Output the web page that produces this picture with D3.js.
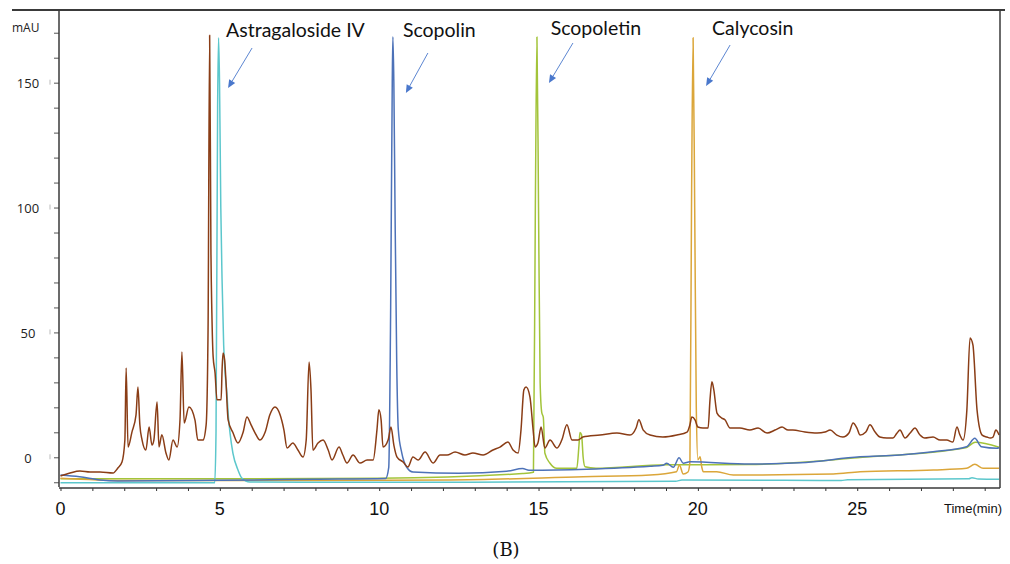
<!DOCTYPE html>
<html><head><meta charset="utf-8">
<script src="https://cdn.jsdelivr.net/npm/d3@7"></script>
<style>html,body{margin:0;padding:0;background:#fff;}svg{display:block;}</style>
</head><body>
<script>
// ---- data (time in min, absorbance in mAU) ----
const brownT = [0,0.3,0.61,0.93,1.24,1.65,1.8,1.93,2.02,2.06,2.12,2.24,2.37,2.43,2.49,2.56,2.68,2.78,2.87,2.93,3.03,3.09,3.18,3.31,3.4,3.53,3.66,3.75,3.81,3.88,4.03,4.22,4.31,4.47,4.57,4.63,4.68,4.72,4.75,4.79,4.85,4.91,5.04,5.07,5.1,5.15,5.19,5.26,5.41,5.57,5.73,5.85,5.98,6.1,6.26,6.42,6.57,6.73,6.89,7.01,7.11,7.29,7.45,7.61,7.71,7.8,7.86,7.92,8.08,8.24,8.4,8.52,8.74,8.86,8.99,9.18,9.4,9.62,9.81,9.93,9.99,10.06,10.12,10.28,10.37,10.46,10.56,10.75,10.9,11.06,11.22,11.44,11.69,11.91,12.13,12.38,12.69,12.94,13.26,13.57,13.79,14.04,14.2,14.36,14.45,14.54,14.61,14.73,14.83,14.89,14.98,15.08,15.2,15.36,15.58,15.73,15.89,16.05,16.24,16.39,16.93,17.46,17.87,18.06,18.15,18.28,18.5,18.9,19.34,19.66,19.75,19.81,19.91,20.0,20.16,20.32,20.38,20.44,20.5,20.6,20.75,20.85,21.01,21.32,21.63,21.89,22.17,22.42,22.64,22.83,22.98,23.36,23.74,23.99,24.15,24.36,24.55,24.74,24.87,24.99,25.09,25.27,25.4,25.56,25.71,25.93,26.12,26.25,26.34,26.5,26.66,26.81,26.97,27.12,27.38,27.6,27.81,28.0,28.13,28.22,28.32,28.44,28.54,28.63,28.76,28.92,29.07,29.17,29.26,29.35,29.45];
const brownV = [-7.5,-6.3,-5.5,-5.9,-5.9,-6.3,-4.3,-1.9,6.9,35.8,4.1,10,17,28.1,13,6.9,2.9,12.1,4.9,6.9,22.1,4.1,9,1.7,-1.1,6.9,4.1,15,42.2,13.7,20.1,14.9,6.9,6.9,13,51,169,83,57.8,40.2,33.8,23,23,35,41.8,39,31,15,9.9,5.7,10,16.1,13,9.9,6.9,10,17,20.1,17,11,3.7,5.7,2.9,0.1,6.9,38.2,27,2.9,5.7,6.9,2.9,-1.1,4.1,0.9,-2.3,0.9,-2.3,-1.1,-1.1,11,19,15,4.1,6.9,12.1,4.9,0.1,-1.9,-3.9,0.1,-1.1,2.1,-2.3,0.9,0.9,2.1,0.9,1.7,0.9,2.9,4.1,6.1,2.9,1.7,11,27,28.1,24.2,11,4.1,5.7,12.1,3.7,6.9,3.7,6.9,13,6.9,6.9,8.1,8.9,9.7,8.9,11.7,15,11,8.9,8.1,8.9,10.1,13,16.1,15,12.1,11.7,11.7,23,30.2,27,17.7,15.7,15,11.7,11.7,10.9,11.7,9.7,10.9,12.1,10.9,10.9,10.1,9.7,10.1,10.9,8.9,8.1,9.7,13.7,11.7,8.9,10.1,13,10.1,8.1,7.7,7.7,9.7,10.9,7.7,9.7,11.7,8.9,7.7,8.1,6.9,6.9,6.1,12.1,9,6.9,18.9,47.8,45,18.9,8.9,8.1,7.7,8.1,10.9,8.9];

const cyanT = [0,4.84,4.88,4.93,4.96,4.99,5.03,5.07,5.12,5.17,5.22,5.27,5.32,5.41,5.57,5.69,5.94,10,19.3,19.5,24.5,24.7,28.5,28.6,28.8,29.45];
const cyanV = [-10.2,-10.2,10,140,168,150,100,71,45,33,25.8,16,9.7,1.7,-5.1,-8.3,-9.9,-10,-9.6,-9.1,-9.3,-9,-8.6,-8.2,-8.7,-8.8];

const blueT = [0,0.6,1.24,1.8,5,8,10.2,10.3,10.36,10.41,10.43,10.46,10.5,10.55,10.6,10.71,10.86,11.06,12.5,14.0,14.5,14.7,16.5,18.5,18.9,19.02,19.23,19.41,19.54,19.75,21.64,23.2,25.09,26.34,27.38,28.43,28.69,28.9,29.38,29.45];
const blueV = [-7.1,-7.8,-9.1,-9.5,-9.2,-8.8,-8.5,-4,60,150,168.4,150,95,38,11,1.7,-3.9,-5.9,-6.4,-5.6,-4.5,-5.2,-4.8,-3.6,-3.2,-2.4,-4,-0.2,-2.4,-1.8,-2.7,-2.2,0.2,0.9,2.2,4.2,7.6,4.2,3.6,3.8];

const greenT = [0,5,10,14.5,14.84,14.9,14.95,15.0,15.05,15.1,15.15,15.2,15.36,15.57,16.2,16.27,16.3,16.35,16.4,16.46,16.8,19,21.6,25,28.4,28.7,29.45];
const greenV = [-8.6,-8.6,-8.4,-6.5,-6,100,168.3,100,30,18,16,1.6,-2.4,-4.4,-4.4,5,9.9,9,0,-3.8,-4.4,-3,-2.9,-0.2,3.8,6,4];

const orangeT = [0,2,8,12.22,16.4,18.5,19.33,19.42,19.54,19.69,19.75,19.8,19.85,19.9,19.95,20.0,20.07,20.12,20.17,20.59,21.11,24.25,25.09,27.39,28.43,28.69,28.95,29.45];
const orangeV = [-8.4,-9.3,-9.3,-9.1,-7.8,-7.1,-5.8,-3.1,-6.7,-5.9,-2,100,168,100,20,-1,0.2,-3.8,-5.8,-5.8,-7.1,-6.7,-5.8,-5.1,-4.4,-2.8,-4.4,-4.4];

const compounds = ["Astragaloside IV","Scopolin","Scopoletin","Calycosin"];
const compoundPeakT = [4.96, 10.43, 14.95, 19.85];

const xTickLabels = [0,5,10,15,20,25];
const yTickLabels = [0,50,100,150];
const xAxisTitle = "Time(min)";
const yAxisTitle = "mAU";
const panelLabel = "(B)";

// ---- layout ----
const W = 1010, H = 564;
const svg = d3.select("body").append("svg").attr("width", W).attr("height", H);

const x = d3.scaleLinear().domain([-0.047, 29.48]).range([59, 1000]);
const y = d3.scaleLinear().domain([-12.3, 179.1]).range([488, 10]);

const series = [
  {t: brownT, v: brownV, color: "#8a3d16", w: 1.5},
  {t: orangeT, v: orangeV, color: "#dba63a", w: 1.5},
  {t: greenT, v: greenV, color: "#a3c43a", w: 1.5},
  {t: blueT, v: blueV, color: "#4d72b8", w: 1.5},
  {t: cyanT, v: cyanV, color: "#5cc7cc", w: 1.5}
];
const drawOrder = [2, 1, 4, 3, 0];
const line = d3.line().x(d => x(d[0])).y(d => y(d[1])).curve(d3.curveMonotoneX);
const gLines = svg.append("g");
drawOrder.forEach(i => {
  const s = series[i];
  const pts = s.t.map((t, k) => [t, s.v[k]]);
  gLines.append("path").attr("d", line(pts)).attr("fill", "none")
    .attr("stroke", s.color).attr("stroke-width", s.w).attr("stroke-linejoin", "round");
});

// frame
const axisColor = "#3a3a3a";
svg.append("line").attr("x1", 12).attr("x2", 1005).attr("y1", 10).attr("y2", 10)
  .attr("stroke", axisColor).attr("stroke-width", 2);
svg.append("line").attr("x1", 1000).attr("x2", 1000).attr("y1", 10).attr("y2", 488)
  .attr("stroke", axisColor).attr("stroke-width", 1.5);

// y axis
const yAxis = d3.axisLeft(y).tickValues(d3.range(-10, 171, 10)).tickSize(5).tickFormat("");
const gy = svg.append("g").attr("transform", "translate(59,0)").call(yAxis);
gy.select(".domain").remove();
gy.selectAll(".tick line").attr("stroke", "#555").attr("stroke-width", 1);
svg.append("line").attr("x1", 59).attr("x2", 59).attr("y1", 10).attr("y2", 487)
  .attr("stroke", axisColor).attr("stroke-width", 1.5);
yTickLabels.forEach(v => {
  svg.append("text").attr("x", 28).attr("y", y(v) + 2).attr("text-anchor", "middle")
    .attr("dominant-baseline", "middle").attr("font-family", "'Open Sans', sans-serif")
    .attr("font-size", 13).attr("fill", "#222").text(v);
  svg.append("line").attr("x1", 50).attr("x2", 50).attr("y1", y(v) - 3).attr("y2", y(v) + 2)
    .attr("stroke", "#bbb").attr("stroke-width", 1);
});
svg.append("text").attr("x", 12).attr("y", 32).attr("font-family", "'Open Sans', sans-serif")
  .attr("font-size", 12).attr("fill", "#222").text(yAxisTitle);

// x axis
const xAxis = d3.axisBottom(x).tickValues(d3.range(0, 30, 1)).tickSize(3).tickFormat("");
const gx = svg.append("g").attr("transform", "translate(0,488)").call(xAxis);
gx.select(".domain").remove();
gx.selectAll(".tick line").attr("stroke", "#333");
svg.append("line").attr("x1", 59).attr("x2", 1000).attr("y1", 488).attr("y2", 488)
  .attr("stroke", axisColor).attr("stroke-width", 1.5);
xTickLabels.forEach(t => {
  svg.append("text").attr("x", x(t)).attr("y", 515).attr("text-anchor", "middle")
    .attr("font-family", "'Liberation Sans Narrow', 'Arial Narrow', sans-serif")
    .attr("font-size", 18).attr("fill", "#111").text(t);
});
svg.append("text").attr("x", 944).attr("y", 513)
  .attr("font-family", "'Liberation Sans Narrow', 'Arial Narrow', sans-serif")
  .attr("font-size", 13).attr("fill", "#111").text(xAxisTitle);

// panel label
svg.append("text").attr("x", 506).attr("y", 556).attr("text-anchor", "middle")
  .attr("font-family", "'DejaVu Serif', 'Liberation Serif', serif")
  .attr("font-size", 18).attr("fill", "#111").text(panelLabel);

// compound annotations
const labelDx = [7.5, 10, 13.7, 19];
const labelY = [37, 37, 35, 35];
const arrowStart = [[33.5, 48], [35, 53], [36, 43], [37, 45]];
const arrowEnd = [[9.5, 88], [13, 93], [12, 83], [13, 86]];
const arrowColor = "#4a78cc";
compounds.forEach((name, i) => {
  const px = x(compoundPeakT[i]);
  svg.append("text").attr("x", px + labelDx[i]).attr("y", labelY[i])
    .attr("font-family", "Lato, 'Open Sans', sans-serif").attr("font-size", 19.5)
    .attr("fill", "#111").text(name);
  const x1 = px + arrowStart[i][0], y1 = arrowStart[i][1];
  const x2 = px + arrowEnd[i][0], y2 = arrowEnd[i][1];
  const ang = Math.atan2(y2 - y1, x2 - x1);
  const L = 8, hw = 3.5;
  const bx = x2 - L * Math.cos(ang), by = y2 - L * Math.sin(ang);
  svg.append("line").attr("x1", x1).attr("y1", y1).attr("x2", bx).attr("y2", by)
    .attr("stroke", arrowColor).attr("stroke-width", 0.9);
  const p1 = [bx + hw * Math.sin(ang), by - hw * Math.cos(ang)];
  const p2 = [bx - hw * Math.sin(ang), by + hw * Math.cos(ang)];
  svg.append("path").attr("d", `M${x2},${y2}L${p1[0]},${p1[1]}L${p2[0]},${p2[1]}Z`)
    .attr("fill", arrowColor);
});
</script>
</body></html>
